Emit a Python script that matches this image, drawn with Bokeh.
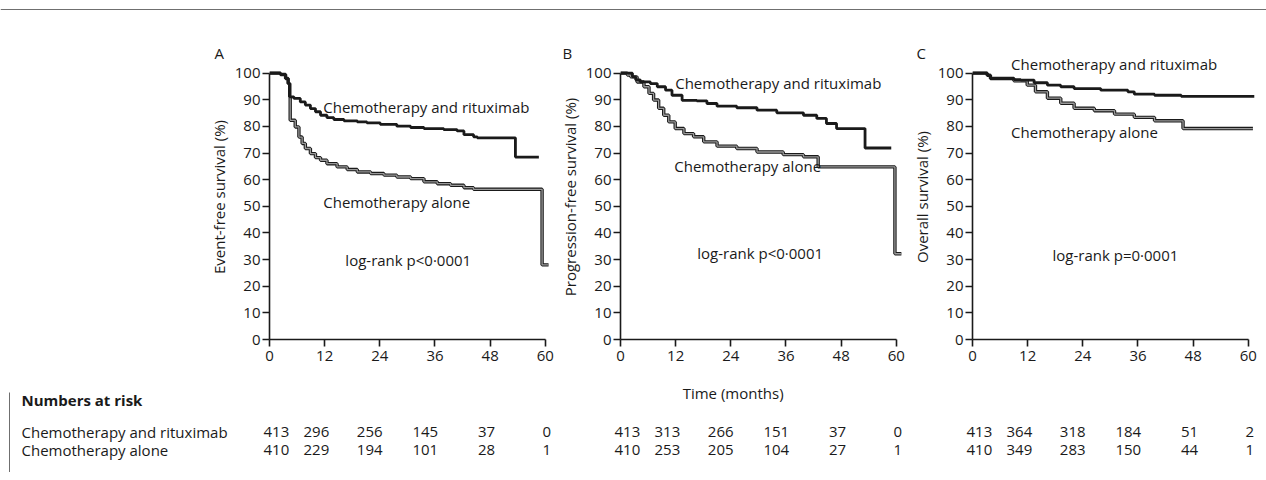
from bokeh.plotting import figure
from bokeh.models import FixedTicker, Range1d
from bokeh.layouts import row, column
from bokeh.embed import file_html
from bokeh.resources import INLINE
from bokeh.core.properties import value

# ---------------- data ----------------
month_ticks = [0, 12, 24, 36, 48, 60]
pct_ticks = [0, 10, 20, 30, 40, 50, 60, 70, 80, 90, 100]

group_names = ["Chemotherapy and rituximab", "Chemotherapy alone"]

# A: event-free survival
efs_r_t = [0, 2.4, 3.5, 4.06, 4.4, 5.3, 6.7, 7.8, 8.9, 10, 11.1, 12.5, 14, 16.2, 19.1, 21.2, 24.1,
           27.7, 30.7, 33.6, 37.9, 40.8, 42.3, 44.4, 45.2, 53.5, 58.6]
efs_r_s = [100, 99.5, 98, 96.1, 91.1, 90.5, 89.2, 88, 86.7, 85.5, 84.2, 83.3, 82.6, 82.1, 81.7, 81.3,
           80.8, 80.1, 79.6, 79.2, 78.8, 78.3, 76.9, 76.1, 75.7, 68.5, 68.5]
efs_c_t = [0, 2.4, 3.5, 4.06, 4.4, 4.5, 5.6, 6.4, 7.1, 7.8, 8.9, 10, 11.1, 12.5, 14.7, 16.9, 19.1, 22,
           24.9, 27.7, 30.7, 33.6, 36.5, 39.4, 42.3, 44.4, 59.3, 60.7]
efs_c_s = [100, 99.5, 98, 96.1, 91.1, 82.3, 79.8, 76, 73.6, 71.7, 69.8, 68.3, 67.3, 66.0, 64.8, 63.8,
           62.9, 62.3, 61.7, 61.0, 60.4, 59.2, 58.5, 57.9, 57.0, 56.4, 28.0, 28.0]

# B: progression-free survival
pfs_r_t = [0, 2.6, 3.3, 4.3, 6.5, 8.0, 9.8, 11.2, 13.4, 16.6, 18.8, 21, 25.3, 29.7, 34, 39.8, 42.7,
           44.8, 47, 53.2, 58.9]
pfs_r_s = [100, 98.6, 97.5, 96.7, 96.1, 94.9, 93.6, 91.7, 89.8, 89.6, 88.6, 87.6, 87.0, 86.1, 85.1,
           84.2, 83.0, 81.1, 79.2, 71.9, 71.9]
pfs_c_t = [0, 1.5, 2.2, 3.6, 5.1, 6.2, 7.2, 8.3, 9.4, 10.5, 11.9, 13.8, 15.9, 18.1, 21, 25.3, 29.7,
           35.4, 39.8, 43.0, 59.7, 61.1]
pfs_c_s = [100, 99.3, 98.6, 96.7, 94.9, 92.4, 89.9, 86.8, 84.2, 81.7, 79.2, 77.3, 76.1, 74.2, 72.6,
           71.7, 70.4, 69.4, 68.6, 64.8, 32.2, 32.2]

# C: overall survival
os_r_t = [0, 3.2, 3.9, 9.0, 10.5, 13.4, 16.3, 19.2, 22.1, 27.9, 33.8, 35.2, 39.6, 45.4, 61.3]
os_r_s = [100, 99.2, 98.0, 97.6, 97.4, 96.4, 95.5, 94.9, 94.2, 93.6, 93.0, 92.1, 91.7, 91.3, 91.3]
os_c_t = [0, 3.2, 3.9, 9.0, 11.9, 13.7, 16.3, 19.2, 22.1, 26.5, 30.9, 35.2, 39.6, 45.8, 61.0]
os_c_s = [100, 99.2, 98.0, 97.1, 95.5, 93.0, 90.6, 88.7, 86.8, 85.9, 84.6, 83.4, 82.1, 79.2, 79.2]

# numbers at risk (rows: chemo + rituximab, chemo alone)
risk_A_r = [413, 296, 256, 145, 37, 0]
risk_A_c = [410, 229, 194, 101, 28, 1]
risk_B_r = [413, 313, 266, 151, 37, 0]
risk_B_c = [410, 253, 205, 104, 27, 1]
risk_C_r = [413, 364, 318, 184, 51, 2]
risk_C_c = [410, 349, 283, 150, 44, 1]

pvals = ["log-rank p<0\u00b70001", "log-rank p<0\u00b70001", "log-rank p=0\u00b70001"]

# ---------------- layout / style ----------------
FONT = "Open Sans"
FS = "15px"
INK = "#1a1a1a"
GREY = "#9a9a9a"
RULE = "#6f6f6f"
TOTAL_W = 1266
STRIP_H = 10
FRAME_W, FRAME_H = 285, 285
X_END, Y_END = 62, 107
PANEL_TOP, PANEL_BOTTOM = 44, 33
risk_cols = [1.5, 10.2, 21.8, 33.9, 47.2, 60.3]      # column centres in months


def blank_fig(height, y_top):
    f = figure(width=TOTAL_W, height=height,
               x_range=Range1d(0, TOTAL_W), y_range=Range1d(y_top + height, y_top),
               min_border=0, min_border_left=0, min_border_right=0,
               min_border_top=0, min_border_bottom=0,
               toolbar_location=None, output_backend="svg")
    f.axis.visible = False
    f.grid.visible = False
    f.outline_line_color = None
    f.background_fill_color = "white"
    f.border_fill_color = "white"
    return f


def make_panel(border_left, border_right, ylabel, letter, letter_offset):
    p = figure(frame_width=FRAME_W, frame_height=FRAME_H,
               x_range=Range1d(0, X_END), y_range=Range1d(0, Y_END),
               min_border_left=border_left, min_border_right=border_right,
               min_border_top=PANEL_TOP, min_border_bottom=PANEL_BOTTOM,
               toolbar_location=None, output_backend="svg")
    p.outline_line_color = None
    p.grid.visible = False
    p.background_fill_color = "white"
    p.border_fill_color = "white"
    p.title.text = letter
    p.title.align = "left"
    p.title.offset = letter_offset
    p.title.standoff = -16
    p.title.text_font = FONT
    p.title.text_font_size = FS
    p.title.text_font_style = "normal"
    p.title.text_color = INK
    for ax in (p.xaxis[0], p.yaxis[0]):
        ax.axis_line_color = INK
        ax.axis_line_width = 1.6
        ax.major_tick_line_color = INK
        ax.major_tick_line_width = 1.6
        ax.major_tick_out = 7
        ax.major_tick_in = 0
        ax.minor_tick_line_color = None
        ax.major_label_text_font = FONT
        ax.major_label_text_font_size = FS
        ax.major_label_text_color = INK
        ax.axis_label_text_font = FONT
        ax.axis_label_text_font_size = FS
        ax.axis_label_text_font_style = "normal"
        ax.axis_label_text_color = INK
    p.xaxis.ticker = FixedTicker(ticks=month_ticks)
    p.yaxis.ticker = FixedTicker(ticks=pct_ticks)
    p.xaxis.bounds = (0, 60)
    p.yaxis.bounds = (0, 100)
    p.xaxis.major_label_standoff = 4
    p.yaxis.major_label_standoff = 2
    p.yaxis.axis_label = ylabel
    p.yaxis.axis_label_standoff = 3
    return p


def add_curves(p, tr, sr, tc, sc):
    p.step(tc, sc, mode="after", line_color=INK, line_width=3.4)
    p.step(tc, sc, mode="after", line_color=GREY, line_width=1.3)
    p.step(tr, sr, mode="after", line_color=INK, line_width=2.8)


def add_texts(p, xs, ys, texts):
    p.text(x=xs, y=ys, text=texts, text_font=value(FONT), text_font_size=FS,
           text_color=INK, text_align="left", text_baseline="middle")


# thin rule along the top of the page
pTop = blank_fig(STRIP_H, 0)
pTop.segment(x0=[0], y0=[7], x1=[TOTAL_W], y1=[7], line_color=RULE, line_width=1)

pA = make_panel(269, 0, "Event-free survival (%)", "A", -55)
add_curves(pA, efs_r_t, efs_r_s, efs_c_t, efs_c_s)
add_texts(pA, [11.7, 11.7, 16.5], [87.2, 51.5, 29.7], [group_names[0], group_names[1], pvals[0]])

pB = make_panel(66, 0, "Progression-free survival (%)", "B", -58)
add_curves(pB, pfs_r_t, pfs_r_s, pfs_c_t, pfs_c_s)
add_texts(pB, [11.9, 11.7, 16.7], [96.2, 65.3, 32.3], [group_names[0], group_names[1], pvals[1]])

pC = make_panel(67, 9, "Overall survival (%)", "C", -56)
add_curves(pC, os_r_t, os_r_s, os_c_t, os_c_s)
add_texts(pC, [8.4, 8.4, 17.4], [103.6, 77.9, 31.6], [group_names[0], group_names[1], pvals[2]])

# ---------------- numbers-at-risk table (page-pixel coordinates) ----------------
TAB_TOP = STRIP_H + PANEL_TOP + FRAME_H + PANEL_BOTTOM      # 372
TAB_H = 100
panel_origins = [269, 620, 972]                   # x pixel of month 0 in each panel
px_per_month = FRAME_W / X_END

pT = blank_fig(TAB_H, TAB_TOP)

ROW_Y = [431, 449]
HEAD_Y = 399
TIME_Y = 392
LABEL_X = 21

tx, ty, tt = [], [], []
for origin, rvals, cvals in zip(panel_origins, [risk_A_r, risk_B_r, risk_C_r], [risk_A_c, risk_B_c, risk_C_c]):
    for m, a, b in zip(risk_cols, rvals, cvals):
        xpix = origin + m * px_per_month
        tx += [xpix, xpix]
        ty += [ROW_Y[0], ROW_Y[1]]
        tt += [str(a), str(b)]
pT.text(x=tx, y=ty, text=tt, text_font=value(FONT), text_font_size=FS, text_color=INK,
        text_align="center", text_baseline="middle")
pT.text(x=[LABEL_X, LABEL_X], y=ROW_Y, text=group_names, text_font=value(FONT), text_font_size=FS,
        text_color=INK, text_align="left", text_baseline="middle")
pT.text(x=[LABEL_X], y=[HEAD_Y], text=["Numbers at risk"], text_font=value(FONT), text_font_size=FS,
        text_font_style="bold", text_color=INK, text_align="left", text_baseline="middle")
pT.text(x=[panel_origins[1] + 24.5 * px_per_month], y=[TIME_Y], text=["Time (months)"],
        text_font=value(FONT), text_font_size=FS, text_color=INK, text_align="center",
        text_baseline="middle")
# page edge rule on the left of the table
pT.segment(x0=[9], y0=[392], x1=[9], y1=[TAB_TOP + TAB_H], line_color=RULE, line_width=1)

layout = column(pTop, row(pA, pB, pC), pT)
open("out.html", "w").write(file_html(layout, INLINE))
